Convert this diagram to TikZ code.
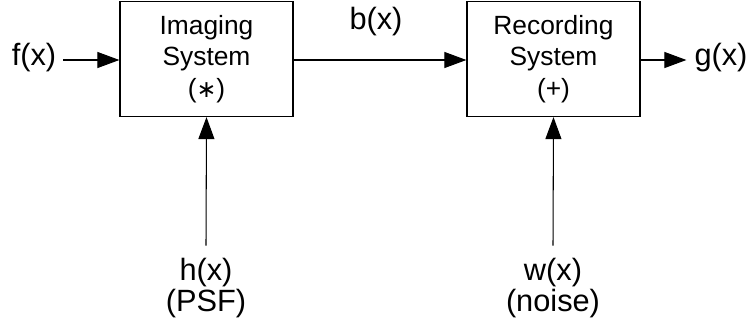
\documentclass[tikz,border=0pt]{standalone}
\usepackage{fontspec}
\setmainfont{Liberation Sans}
\newfontfamily\symfont{DejaVu Sans}
\usepackage{tikz}
\usetikzlibrary{arrows.meta,positioning,calc}

\tikzset{
  sysbox/.style={draw,line width=0.7pt,minimum width=3.46cm,minimum height=2.3cm,align=center,font=\fontsize{15}{18}\selectfont},
  sig/.style={font=\fontsize{17.5}{18}\selectfont,align=center,inner sep=1pt},
  flow/.style={line width=0.6pt,-{Triangle[length=4.4mm,width=3.2mm]}}
}

\begin{document}
\begin{tikzpicture}[x=0.2mm,y=-0.2mm]
\useasboundingbox (0,0) rectangle (750,328);
% blocks
\node[sysbox] (imaging) at (206.5,59) {Imaging\\System\\({\symfont\fontsize{13.5}{18}\selectfont ∗})};
\node[sysbox] (recording) at (553.5,59) {Recording\\System\\(+)};
% signals
\node[sig] (f) at (34,58) {f(x)};
\node[sig] (g) at (721,58) {g(x)};
\node[sig] (b) at (376,22) {b(x)};
\node[sig,inner sep=0pt] (h) at (206,288) {h(x)\\(PSF)};
\node[sig,inner sep=0pt] (w) at (553,288) {w(x)\\(noise)};
% connectors
\draw[flow] (f.east) ++(5,2) coordinate (fs) -- (fs -| imaging.west);
\draw[flow] (imaging.east |- 0,60) -- (recording.west |- 0,60);
\draw[flow] (recording.east |- 0,60) -- ($(g.west)+(-6,2)$);
\draw[flow] ($(h.north)+(0,-12)$) -- (imaging.south);
\draw[flow] ($(w.north)+(0,-12)$) -- (recording.south);
\end{tikzpicture}
\end{document}
